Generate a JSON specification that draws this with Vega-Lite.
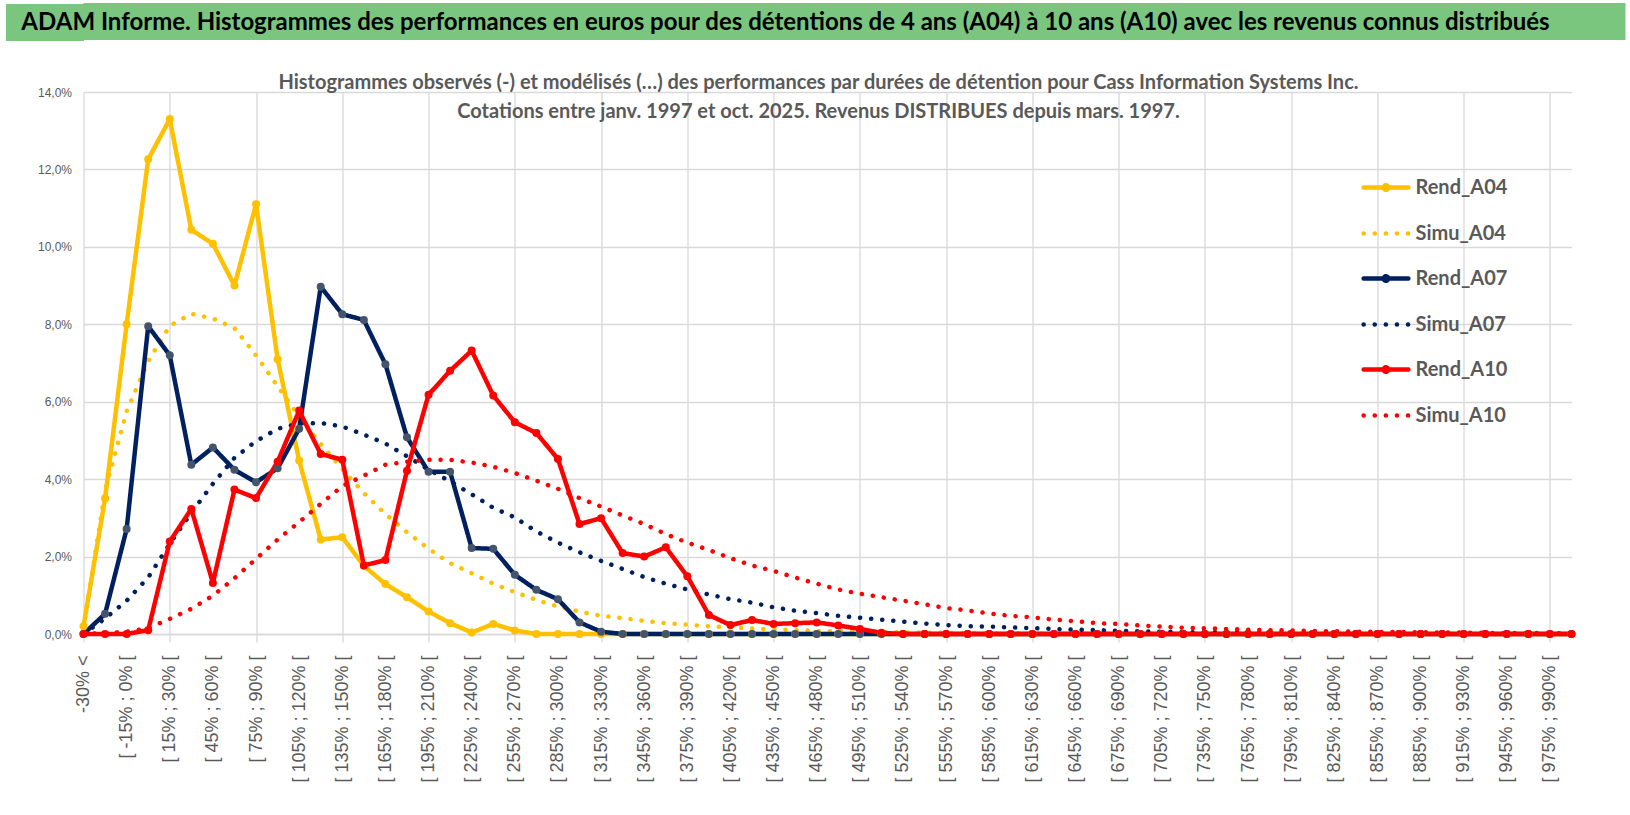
{
  "$schema": "https://vega.github.io/schema/vega-lite/v6.json",
  "background": "#FFFFFF",
  "padding": {"left": -13.5, "top": 3, "right": 5, "bottom": 0},
  "spacing": 32,
  "config": {"view": {"stroke": null}},
  "vconcat": [
    {
      "width": 1542,
      "height": 37,
      "view": {"fill": "#7BC67E", "stroke": null},
      "data": {"values": [{"t": "ADAM Informe. Histogrammes des performances en euros pour des détentions de 4 ans (A04) à 10 ans (A10) avec les revenus connus distribués"}]},
      "mark": {"type": "text", "font": "Lato", "fontSize": 24, "fontWeight": "bold", "color": "#000000", "align": "center", "baseline": "middle", "dx": -69, "dy": 1},
      "encoding": {
        "text": {"field": "t"},
        "y": {
          "datum": 0.5,
          "type": "quantitative",
          "scale": {"domain": [0, 1]},
          "axis": {"values": [0.5], "labels": false, "domain": false, "grid": false, "title": null, "ticks": true, "tickSize": 78, "tickWidth": 37, "tickColor": "#7BC67E", "minExtent": 78, "maxExtent": 78}
        }
      }
    },
    {
      "width": 1488,
      "height": 542,
      "title": {
        "text": [
          "Histogrammes observés (-) et modélisés (…) des performances par durées de détention pour Cass Information Systems Inc.",
          "Cotations entre janv. 1997 et oct. 2025.  Revenus DISTRIBUES depuis mars. 1997."
        ],
        "anchor": "middle",
        "frame": "group",
        "baseline": "alphabetic",
        "offset": 4,
        "dy": 56,
        "dx": -9,
        "lineHeight": 29,
        "font": "Lato",
        "fontSize": 20,
        "fontWeight": "bold",
        "color": "#595959"
      },
      "data": {
        "values": [
          {"c": "-30% <", "Rend_A04": 0.2, "Simu_A04": 0.15, "Rend_A07": 0, "Simu_A07": 0, "Rend_A10": 0, "Simu_A10": 0},
          {"c": "[ -30% ; -15% [", "Rend_A04": 3.5, "Simu_A04": 3.7, "Rend_A07": 0.52, "Simu_A07": 0.4, "Rend_A10": 0, "Simu_A10": 0.02},
          {"c": "[ -15% ; 0% [", "Rend_A04": 8.0, "Simu_A04": 5.75, "Rend_A07": 2.71, "Simu_A07": 0.86, "Rend_A10": 0, "Simu_A10": 0.06},
          {"c": "[ 0% ; 15% [", "Rend_A04": 12.26, "Simu_A04": 7.05, "Rend_A07": 7.95, "Simu_A07": 1.46, "Rend_A10": 0.1, "Simu_A10": 0.15},
          {"c": "[ 15% ; 30% [", "Rend_A04": 13.3, "Simu_A04": 7.96, "Rend_A07": 7.2, "Simu_A07": 2.33, "Rend_A10": 2.39, "Simu_A10": 0.39},
          {"c": "[ 30% ; 45% [", "Rend_A04": 10.44, "Simu_A04": 8.27, "Rend_A07": 4.37, "Simu_A07": 3.13, "Rend_A10": 3.23, "Simu_A10": 0.65},
          {"c": "[ 45% ; 60% [", "Rend_A04": 10.08, "Simu_A04": 8.15, "Rend_A07": 4.82, "Simu_A07": 3.88, "Rend_A10": 1.32, "Simu_A10": 0.99},
          {"c": "[ 60% ; 75% [", "Rend_A04": 9.0, "Simu_A04": 7.9, "Rend_A07": 4.24, "Simu_A07": 4.55, "Rend_A10": 3.73, "Simu_A10": 1.44},
          {"c": "[ 75% ; 90% [", "Rend_A04": 11.1, "Simu_A04": 7.2, "Rend_A07": 3.92, "Simu_A07": 4.98, "Rend_A10": 3.51, "Simu_A10": 1.94},
          {"c": "[ 90% ; 105% [", "Rend_A04": 7.1, "Simu_A04": 6.4, "Rend_A07": 4.28, "Simu_A07": 5.3, "Rend_A10": 4.45, "Simu_A10": 2.44},
          {"c": "[ 105% ; 120% [", "Rend_A04": 4.48, "Simu_A04": 5.62, "Rend_A07": 5.3, "Simu_A07": 5.44, "Rend_A10": 5.77, "Simu_A10": 2.89},
          {"c": "[ 120% ; 135% [", "Rend_A04": 2.44, "Simu_A04": 4.91, "Rend_A07": 8.97, "Simu_A07": 5.45, "Rend_A10": 4.65, "Simu_A10": 3.36},
          {"c": "[ 135% ; 150% [", "Rend_A04": 2.5, "Simu_A04": 4.26, "Rend_A07": 8.26, "Simu_A07": 5.36, "Rend_A10": 4.5, "Simu_A10": 3.82},
          {"c": "[ 150% ; 165% [", "Rend_A04": 1.76, "Simu_A04": 3.64, "Rend_A07": 8.11, "Simu_A07": 5.15, "Rend_A10": 1.77, "Simu_A10": 4.09},
          {"c": "[ 165% ; 180% [", "Rend_A04": 1.29, "Simu_A04": 3.1, "Rend_A07": 6.97, "Simu_A07": 4.92, "Rend_A10": 1.91, "Simu_A10": 4.37},
          {"c": "[ 180% ; 195% [", "Rend_A04": 0.95, "Simu_A04": 2.63, "Rend_A07": 5.08, "Simu_A07": 4.59, "Rend_A10": 4.22, "Simu_A10": 4.45},
          {"c": "[ 195% ; 210% [", "Rend_A04": 0.58, "Simu_A04": 2.2, "Rend_A07": 4.19, "Simu_A07": 4.25, "Rend_A10": 6.18, "Simu_A10": 4.5},
          {"c": "[ 210% ; 225% [", "Rend_A04": 0.28, "Simu_A04": 1.83, "Rend_A07": 4.19, "Simu_A07": 3.94, "Rend_A10": 6.8, "Simu_A10": 4.5},
          {"c": "[ 225% ; 240% [", "Rend_A04": 0.04, "Simu_A04": 1.57, "Rend_A07": 2.22, "Simu_A07": 3.61, "Rend_A10": 7.32, "Simu_A10": 4.43},
          {"c": "[ 240% ; 255% [", "Rend_A04": 0.26, "Simu_A04": 1.3, "Rend_A07": 2.2, "Simu_A07": 3.26, "Rend_A10": 6.16, "Simu_A10": 4.32},
          {"c": "[ 255% ; 270% [", "Rend_A04": 0.09, "Simu_A04": 1.08, "Rend_A07": 1.53, "Simu_A07": 3.01, "Rend_A10": 5.47, "Simu_A10": 4.16},
          {"c": "[ 270% ; 285% [", "Rend_A04": 0, "Simu_A04": 0.88, "Rend_A07": 1.14, "Simu_A07": 2.65, "Rend_A10": 5.19, "Simu_A10": 3.96},
          {"c": "[ 285% ; 300% [", "Rend_A04": 0, "Simu_A04": 0.71, "Rend_A07": 0.9, "Simu_A07": 2.36, "Rend_A10": 4.52, "Simu_A10": 3.75},
          {"c": "[ 300% ; 315% [", "Rend_A04": 0, "Simu_A04": 0.58, "Rend_A07": 0.3, "Simu_A07": 2.11, "Rend_A10": 2.84, "Simu_A10": 3.51},
          {"c": "[ 315% ; 330% [", "Rend_A04": 0, "Simu_A04": 0.47, "Rend_A07": 0.06, "Simu_A07": 1.89, "Rend_A10": 2.99, "Simu_A10": 3.29},
          {"c": "[ 330% ; 345% [", "Rend_A04": 0, "Simu_A04": 0.41, "Rend_A07": 0, "Simu_A07": 1.68, "Rend_A10": 2.09, "Simu_A10": 3.06},
          {"c": "[ 345% ; 360% [", "Rend_A04": 0, "Simu_A04": 0.34, "Rend_A07": 0, "Simu_A07": 1.47, "Rend_A10": 2.0, "Simu_A10": 2.84},
          {"c": "[ 360% ; 375% [", "Rend_A04": 0, "Simu_A04": 0.28, "Rend_A07": 0, "Simu_A07": 1.3, "Rend_A10": 2.24, "Simu_A10": 2.58},
          {"c": "[ 375% ; 390% [", "Rend_A04": 0, "Simu_A04": 0.24, "Rend_A07": 0, "Simu_A07": 1.15, "Rend_A10": 1.49, "Simu_A10": 2.36},
          {"c": "[ 390% ; 405% [", "Rend_A04": 0, "Simu_A04": 0.2, "Rend_A07": 0, "Simu_A07": 1.02, "Rend_A10": 0.49, "Simu_A10": 2.17},
          {"c": "[ 405% ; 420% [", "Rend_A04": 0, "Simu_A04": 0.17, "Rend_A07": 0, "Simu_A07": 0.9, "Rend_A10": 0.23, "Simu_A10": 1.96},
          {"c": "[ 420% ; 435% [", "Rend_A04": 0, "Simu_A04": 0.14, "Rend_A07": 0, "Simu_A07": 0.81, "Rend_A10": 0.36, "Simu_A10": 1.77},
          {"c": "[ 435% ; 450% [", "Rend_A04": 0, "Simu_A04": 0.12, "Rend_A07": 0, "Simu_A07": 0.69, "Rend_A10": 0.26, "Simu_A10": 1.63},
          {"c": "[ 450% ; 465% [", "Rend_A04": 0, "Simu_A04": 0.1, "Rend_A07": 0, "Simu_A07": 0.6, "Rend_A10": 0.28, "Simu_A10": 1.46},
          {"c": "[ 465% ; 480% [", "Rend_A04": 0, "Simu_A04": 0.08, "Rend_A07": 0, "Simu_A07": 0.54, "Rend_A10": 0.3, "Simu_A10": 1.3},
          {"c": "[ 480% ; 495% [", "Rend_A04": 0, "Simu_A04": 0.07, "Rend_A07": 0, "Simu_A07": 0.47, "Rend_A10": 0.22, "Simu_A10": 1.15},
          {"c": "[ 495% ; 510% [", "Rend_A04": 0, "Simu_A04": 0.06, "Rend_A07": 0, "Simu_A07": 0.42, "Rend_A10": 0.13, "Simu_A10": 1.04},
          {"c": "[ 510% ; 525% [", "Rend_A04": 0, "Simu_A04": 0.05, "Rend_A07": 0, "Simu_A07": 0.37, "Rend_A10": 0.03, "Simu_A10": 0.95},
          {"c": "[ 525% ; 540% [", "Rend_A04": 0, "Simu_A04": 0.04, "Rend_A07": 0, "Simu_A07": 0.32, "Rend_A10": 0, "Simu_A10": 0.86},
          {"c": "[ 540% ; 555% [", "Rend_A04": 0, "Simu_A04": 0.035, "Rend_A07": 0, "Simu_A07": 0.27, "Rend_A10": 0, "Simu_A10": 0.77},
          {"c": "[ 555% ; 570% [", "Rend_A04": 0, "Simu_A04": 0.03, "Rend_A07": 0, "Simu_A07": 0.23, "Rend_A10": 0, "Simu_A10": 0.67},
          {"c": "[ 570% ; 585% [", "Rend_A04": 0, "Simu_A04": 0.025, "Rend_A07": 0, "Simu_A07": 0.2, "Rend_A10": 0, "Simu_A10": 0.61},
          {"c": "[ 585% ; 600% [", "Rend_A04": 0, "Simu_A04": 0.02, "Rend_A07": 0, "Simu_A07": 0.19, "Rend_A10": 0, "Simu_A10": 0.53},
          {"c": "[ 600% ; 615% [", "Rend_A04": 0, "Simu_A04": 0.018, "Rend_A07": 0, "Simu_A07": 0.17, "Rend_A10": 0, "Simu_A10": 0.47},
          {"c": "[ 615% ; 630% [", "Rend_A04": 0, "Simu_A04": 0.015, "Rend_A07": 0, "Simu_A07": 0.15, "Rend_A10": 0, "Simu_A10": 0.43},
          {"c": "[ 630% ; 645% [", "Rend_A04": 0, "Simu_A04": 0.012, "Rend_A07": 0, "Simu_A07": 0.13, "Rend_A10": 0, "Simu_A10": 0.37},
          {"c": "[ 645% ; 660% [", "Rend_A04": 0, "Simu_A04": 0.01, "Rend_A07": 0, "Simu_A07": 0.11, "Rend_A10": 0, "Simu_A10": 0.33},
          {"c": "[ 660% ; 675% [", "Rend_A04": 0, "Simu_A04": 0.009, "Rend_A07": 0, "Simu_A07": 0.1, "Rend_A10": 0, "Simu_A10": 0.28},
          {"c": "[ 675% ; 690% [", "Rend_A04": 0, "Simu_A04": 0.008, "Rend_A07": 0, "Simu_A07": 0.08, "Rend_A10": 0, "Simu_A10": 0.26},
          {"c": "[ 690% ; 705% [", "Rend_A04": 0, "Simu_A04": 0.007, "Rend_A07": 0, "Simu_A07": 0.07, "Rend_A10": 0, "Simu_A10": 0.22},
          {"c": "[ 705% ; 720% [", "Rend_A04": 0, "Simu_A04": 0.006, "Rend_A07": 0, "Simu_A07": 0.06, "Rend_A10": 0, "Simu_A10": 0.19},
          {"c": "[ 720% ; 735% [", "Rend_A04": 0, "Simu_A04": 0.005, "Rend_A07": 0, "Simu_A07": 0.05, "Rend_A10": 0, "Simu_A10": 0.16},
          {"c": "[ 735% ; 750% [", "Rend_A04": 0, "Simu_A04": 0.004, "Rend_A07": 0, "Simu_A07": 0.045, "Rend_A10": 0, "Simu_A10": 0.15},
          {"c": "[ 750% ; 765% [", "Rend_A04": 0, "Simu_A04": 0.004, "Rend_A07": 0, "Simu_A07": 0.04, "Rend_A10": 0, "Simu_A10": 0.13},
          {"c": "[ 765% ; 780% [", "Rend_A04": 0, "Simu_A04": 0.003, "Rend_A07": 0, "Simu_A07": 0.035, "Rend_A10": 0, "Simu_A10": 0.11},
          {"c": "[ 780% ; 795% [", "Rend_A04": 0, "Simu_A04": 0.003, "Rend_A07": 0, "Simu_A07": 0.03, "Rend_A10": 0, "Simu_A10": 0.1},
          {"c": "[ 795% ; 810% [", "Rend_A04": 0, "Simu_A04": 0.002, "Rend_A07": 0, "Simu_A07": 0.026, "Rend_A10": 0, "Simu_A10": 0.09},
          {"c": "[ 810% ; 825% [", "Rend_A04": 0, "Simu_A04": 0.002, "Rend_A07": 0, "Simu_A07": 0.023, "Rend_A10": 0, "Simu_A10": 0.08},
          {"c": "[ 825% ; 840% [", "Rend_A04": 0, "Simu_A04": 0.002, "Rend_A07": 0, "Simu_A07": 0.02, "Rend_A10": 0, "Simu_A10": 0.07},
          {"c": "[ 840% ; 855% [", "Rend_A04": 0, "Simu_A04": 0.001, "Rend_A07": 0, "Simu_A07": 0.018, "Rend_A10": 0, "Simu_A10": 0.06},
          {"c": "[ 855% ; 870% [", "Rend_A04": 0, "Simu_A04": 0.001, "Rend_A07": 0, "Simu_A07": 0.015, "Rend_A10": 0, "Simu_A10": 0.055},
          {"c": "[ 870% ; 885% [", "Rend_A04": 0, "Simu_A04": 0.001, "Rend_A07": 0, "Simu_A07": 0.013, "Rend_A10": 0, "Simu_A10": 0.05},
          {"c": "[ 885% ; 900% [", "Rend_A04": 0, "Simu_A04": 0.001, "Rend_A07": 0, "Simu_A07": 0.011, "Rend_A10": 0, "Simu_A10": 0.045},
          {"c": "[ 900% ; 915% [", "Rend_A04": 0, "Simu_A04": 0.001, "Rend_A07": 0, "Simu_A07": 0.01, "Rend_A10": 0, "Simu_A10": 0.04},
          {"c": "[ 915% ; 930% [", "Rend_A04": 0, "Simu_A04": 0, "Rend_A07": 0, "Simu_A07": 0.009, "Rend_A10": 0, "Simu_A10": 0.035},
          {"c": "[ 930% ; 945% [", "Rend_A04": 0, "Simu_A04": 0, "Rend_A07": 0, "Simu_A07": 0.008, "Rend_A10": 0, "Simu_A10": 0.03},
          {"c": "[ 945% ; 960% [", "Rend_A04": 0, "Simu_A04": 0, "Rend_A07": 0, "Simu_A07": 0.007, "Rend_A10": 0, "Simu_A10": 0.027},
          {"c": "[ 960% ; 975% [", "Rend_A04": 0, "Simu_A04": 0, "Rend_A07": 0, "Simu_A07": 0.006, "Rend_A10": 0, "Simu_A10": 0.024},
          {"c": "[ 975% ; 990% [", "Rend_A04": 0, "Simu_A04": 0, "Rend_A07": 0, "Simu_A07": 0.005, "Rend_A10": 0, "Simu_A10": 0.021},
          {"c": "990% >", "Rend_A04": 0, "Simu_A04": 0, "Rend_A07": 0, "Simu_A07": 0.004, "Rend_A10": 0, "Simu_A10": 0.018}
        ]
      },
      "transform": [
        {"fold": ["Rend_A04", "Simu_A04", "Rend_A07", "Simu_A07", "Rend_A10", "Simu_A10"], "as": ["serie", "v"]}
      ],
      "encoding": {
        "x": {
          "field": "c",
          "type": "ordinal",
          "sort": null,
          "scale": {"type": "point", "padding": 0},
          "axis": {
            "title": null,
            "values": ["-30% <", "[ -15% ; 0% [", "[ 15% ; 30% [", "[ 45% ; 60% [", "[ 75% ; 90% [", "[ 105% ; 120% [", "[ 135% ; 150% [", "[ 165% ; 180% [", "[ 195% ; 210% [", "[ 225% ; 240% [", "[ 255% ; 270% [", "[ 285% ; 300% [", "[ 315% ; 330% [", "[ 345% ; 360% [", "[ 375% ; 390% [", "[ 405% ; 420% [", "[ 435% ; 450% [", "[ 465% ; 480% [", "[ 495% ; 510% [", "[ 525% ; 540% [", "[ 555% ; 570% [", "[ 585% ; 600% [", "[ 615% ; 630% [", "[ 645% ; 660% [", "[ 675% ; 690% [", "[ 705% ; 720% [", "[ 735% ; 750% [", "[ 765% ; 780% [", "[ 795% ; 810% [", "[ 825% ; 840% [", "[ 855% ; 870% [", "[ 885% ; 900% [", "[ 915% ; 930% [", "[ 945% ; 960% [", "[ 975% ; 990% ["],
            "labelAngle": 270,
            "labelFont": "Liberation Sans",
            "labelFontSize": 18,
            "labelColor": "#595959",
            "labelPadding": 13,
            "labelOverlap": false,
            "labelBound": false,
            "tickSize": 8,
            "tickColor": "#D9D9D9",
            "tickWidth": 1.3,
            "tickOpacity": {"condition": {"test": "indexof(['-30% <','[ 15% ; 30% [','[ 75% ; 90% [','[ 135% ; 150% [','[ 195% ; 210% [','[ 255% ; 270% [','[ 315% ; 330% [','[ 375% ; 390% [','[ 435% ; 450% [','[ 495% ; 510% [','[ 555% ; 570% [','[ 615% ; 630% [','[ 675% ; 690% [','[ 735% ; 750% [','[ 795% ; 810% [','[ 855% ; 870% [','[ 915% ; 930% [','[ 975% ; 990% ['], datum.value) >= 0", "value": 1}, "value": 0},
            "grid": true,
            "gridColor": "#D9D9D9",
            "gridWidth": 1.3,
            "gridOpacity": {"condition": {"test": "indexof(['-30% <','[ 15% ; 30% [','[ 75% ; 90% [','[ 135% ; 150% [','[ 195% ; 210% [','[ 255% ; 270% [','[ 315% ; 330% [','[ 375% ; 390% [','[ 435% ; 450% [','[ 495% ; 510% [','[ 555% ; 570% [','[ 615% ; 630% [','[ 675% ; 690% [','[ 735% ; 750% [','[ 795% ; 810% [','[ 855% ; 870% [','[ 915% ; 930% [','[ 975% ; 990% ['], datum.value) >= 0", "value": 1}, "value": 0},
            "domainColor": "#D9D9D9",
            "domainWidth": 1.3
          }
        },
        "y": {
          "field": "v",
          "type": "quantitative",
          "scale": {"domain": [0, 14]},
          "axis": {
            "title": null,
            "values": [0, 2, 4, 6, 8, 10, 12, 14],
            "labelExpr": "replace(format(datum.value, '.1f'), '.', ',') + '%'",
            "labelFont": "Liberation Sans",
            "labelFontSize": 12,
            "labelColor": "#595959",
            "labelPadding": 12,
            "minExtent": 78,
            "maxExtent": 78,
            "domain": false,
            "ticks": false,
            "grid": true,
            "gridColor": "#D9D9D9",
            "gridWidth": 1.3
          }
        }
      },
      "layer": [
        {
          "mark": {"type": "line", "strokeWidth": 4.5, "strokeCap": "round", "strokeJoin": "round"},
          "encoding": {
            "order": {"value": null},
            "color": {
              "field": "serie",
              "type": "nominal",
              "scale": {
                "domain": ["Rend_A04", "Simu_A04", "Rend_A07", "Simu_A07", "Rend_A10", "Simu_A10"],
                "range": ["#FFC000", "#FFC000", "#002060", "#002060", "#FF0000", "#FF0000"]
              },
              "legend": {
                "title": null,
                "orient": "none",
                "legendX": 1284,
                "legendY": 166,
                "padding": 0,
                "symbolType": "M-1.4,0L1.4,0",
                "symbolSize": 1024,
                "symbolStrokeWidth": 4.5,
                "labelOffset": 11,
                "rowPadding": 16,
                "labelFont": "Lato",
                "labelFontSize": 20,
                "labelFontWeight": "bold",
                "labelColor": "#595959",
                "encode": {
                  "symbols": {
                    "update": {
                      "strokeCap": {"value": "round"},
                      "shape": [
                        {"test": "indexof(datum.value, 'Rend') === 0", "value": "M-1.4,0L1.4,0M-0.14,0A0.14,0.14,0,1,1,0.14,0A0.14,0.14,0,1,1,-0.14,0"},
                        {"value": "M-1.4,0L1.4,0"}
                      ]
                    }
                  }
                }
              }
            },
            "strokeDash": {
              "field": "serie",
              "type": "nominal",
              "scale": {
                "domain": ["Rend_A04", "Simu_A04", "Rend_A07", "Simu_A07", "Rend_A10", "Simu_A10"],
                "range": [[1, 0], [0.1, 11], [1, 0], [0.1, 11], [1, 0], [0.1, 11]]
              },
              "legend": {
                "title": null,
                "orient": "none",
                "legendX": 1284,
                "legendY": 166,
                "padding": 0,
                "symbolType": "M-1.4,0L1.4,0",
                "symbolSize": 1024,
                "symbolStrokeWidth": 4.5,
                "labelOffset": 11,
                "rowPadding": 16,
                "labelFont": "Lato",
                "labelFontSize": 20,
                "labelFontWeight": "bold",
                "labelColor": "#595959"
              }
            }
          }
        },
        {
          "transform": [{"filter": {"field": "serie", "oneOf": ["Rend_A04", "Rend_A07", "Rend_A10"]}}],
          "mark": {"type": "point", "filled": true, "size": 64, "opacity": 1},
          "encoding": {
            "fill": {
              "field": "serie",
              "type": "nominal",
              "scale": {"domain": ["Rend_A04", "Rend_A07", "Rend_A10"], "range": ["#FFC000", "#44546A", "#FF0000"]},
              "legend": null
            }
          }
        }
      ]
    }
  ]
}
